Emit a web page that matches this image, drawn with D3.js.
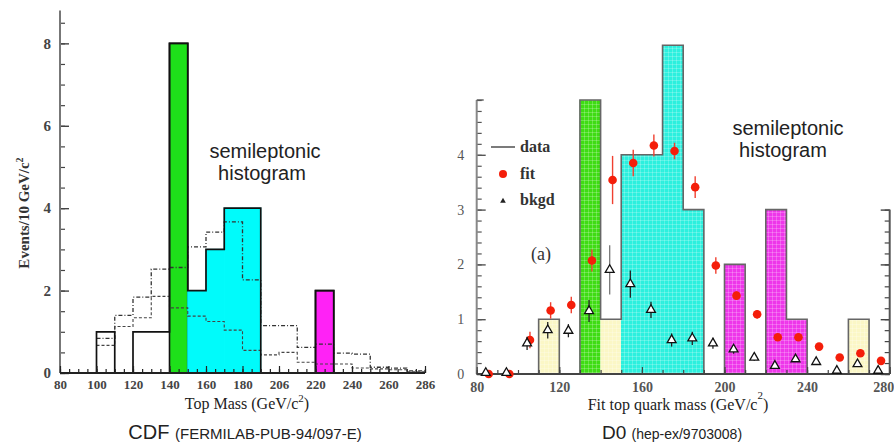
<!DOCTYPE html>
<html><head><meta charset="utf-8">
<script src="https://cdn.jsdelivr.net/npm/d3@7"></script>
<style>
html,body{margin:0;padding:0;background:#fff;}
svg{display:block;}
</style></head>
<body>
<svg id="c" width="894" height="444"></svg>
<script>
// ---------- DATA ----------
const binStarts = [80,90,100,110,120,130,140,150,160,170,180,190,200,210,220,230,240,250,260,270];
// CDF histogram (events per 10 GeV)
const cdfData  = [0,0,1,0,1,1,8,2,3,4,4,0,0,0,2,0,0,0,0,0];
const cdfColor = ["none","none","none","none","none","none","green","cyan","cyan","cyan","cyan","none","none","none","magenta","none","none","none","none","none"];
const cdfUpper = [0,0,0.84,1.4,1.84,2.52,2.56,3.06,3.42,3.67,2.26,1.15,1.15,0.62,0.7,0.48,0.46,0.14,0.12,0.05];
const cdfLower = [0,0,0.67,1.13,1.34,1.86,1.58,1.38,1.25,1.04,0.55,0.44,0.5,0.26,0.22,0.22,0.12,0.1,0.08,0.03];
const cdfXTicks = [80,100,120,140,160,180,200,220,240,260,280];
const cdfXTickLabels = ["80","100","120","140","160","180","206","220","240","260","286"];
const cdfYTicks = [0,2,4,6,8];

// D0 histogram
const d0Data  = [0,0,0,1,0,5,1,4,4,6,3,0,2,0,3,1,0,0,1,0];
const d0Color = ["none","none","none","yellow","none","green","yellow","cyan","cyan","cyan","cyan","none","magenta","none","magenta","magenta","none","none","yellow","none"];
const d0Fit    = [0.0,0.0,0.62,1.16,1.26,2.07,3.54,3.85,4.17,4.07,3.41,1.98,1.43,1.09,0.67,0.67,0.5,0.3,0.38,0.24];
const d0FitErr = [0.03,0.03,0.15,0.15,0.15,0.2,0.44,0.24,0.2,0.15,0.2,0.15,0.08,0.08,0.06,0.06,0.06,0.05,0.05,0.05];
const d0Bkg    = [0.02,0.02,0.56,0.8,0.79,1.15,1.9,1.64,1.17,0.62,0.65,0.56,0.45,0.3,0.15,0.27,0.22,0.06,0.18,0.06];
const d0BkgErr = [0.02,0.02,0.12,0.15,0.12,0.2,0.45,0.25,0.15,0.12,0.12,0.1,0.08,0.06,0.05,0.05,0.05,0.03,0.05,0.03];
const d0XTicks = [80,120,160,200,240,280];
const d0XTickLabels = ["80","120","160","200","240","280"];
const d0YTicks = [0,1,2,3,4];
const legendItems = ["data","fit","bkgd"];

// ---------- STYLE ----------
const cdfFill = {green:"#1ee01a", cyan:"#00fbfb", magenta:"#ff22f6", none:"none"};
const d0Fill  = {green:"#3fdc14", cyan:"#2cf0de", magenta:"#ee36ea", yellow:"#fbf7c6", none:"none"};
const serif = "'Liberation Serif','DejaVu Serif',serif";
const sans = "'Liberation Sans',Arial,sans-serif";

const svg = d3.select("#c");
const defs = svg.append("defs");
["cyan","magenta","green","yellow"].forEach(k=>{
  const p = defs.append("pattern").attr("id","pat-"+k).attr("patternUnits","userSpaceOnUse")
    .attr("width",4).attr("height",4);
  p.append("rect").attr("width",4).attr("height",4).attr("fill",d0Fill[k]);
  p.append("path").attr("d","M0,0.5H4M0.5,0V4").attr("stroke","#fff").attr("stroke-opacity",0.22).attr("stroke-width",1);
});

function stepPts(vals, xs, startIdx){
  const pts=[];
  for(let i=startIdx;i<vals.length;i++){
    pts.push([xs(binStarts[i]),vals[i]]);
    pts.push([xs(binStarts[i]+10),vals[i]]);
  }
  return pts;
}

// ================= CDF =================
const cx = d3.scaleLinear().domain([80,280]).range([60,425]);
const cy = d3.scaleLinear().domain([0,8.8]).range([373,10.4]);
const gC = svg.append("g");

// fills
gC.selectAll("rect.bar").data(binStarts.map((b,i)=>({b,v:cdfData[i],c:cdfColor[i]})).filter(d=>d.v>0 && d.c!=="none"))
  .join("rect").attr("class","bar")
  .attr("x",d=>cx(d.b)).attr("width",d=>cx(d.b+10)-cx(d.b))
  .attr("y",d=>cy(d.v)).attr("height",d=>cy(0)-cy(d.v))
  .attr("fill",d=>cdfFill[d.c])
  .attr("stroke",d=>d.c==="cyan"?cdfFill.cyan:"#111").attr("stroke-width",d=>d.c==="cyan"?1:1.6);

// dashed step lines
const lineC = d3.line().x(d=>d[0]).y(d=>cy(d[1]));
gC.append("path").attr("d",lineC(stepPts(cdfUpper,cx,2))).attr("fill","none")
  .attr("stroke","#333").attr("stroke-width",1.3).attr("stroke-dasharray","4,2,1,2");
gC.append("path").attr("d",lineC(stepPts(cdfLower,cx,2))).attr("fill","none")
  .attr("stroke","#444").attr("stroke-width",1.1).attr("stroke-dasharray","3,2");

// data outline
gC.append("path").attr("d",lineC(stepPts(cdfData,cx,0))).attr("fill","none")
  .attr("stroke","#111").attr("stroke-width",1.7);

// axes
const cYaxisMinor = d3.axisLeft(cy).tickValues(d3.range(0,8.75,0.5)).tickSize(-5).tickFormat("");
gC.append("g").attr("transform","translate(60,0)").call(cYaxisMinor)
  .call(g=>{g.select(".domain").remove(); g.selectAll("line").attr("stroke","#444").attr("stroke-width",1.2);});
const cYaxis = d3.axisLeft(cy).tickValues(cdfYTicks).tickSize(-9).tickPadding(9).tickFormat(d3.format("d"));
gC.append("g").attr("transform","translate(60,0)").call(cYaxis)
  .call(g=>{g.select(".domain").remove();
    g.selectAll("line").attr("stroke","#444").attr("stroke-width",1.4);
    g.selectAll("text").attr("font-family",serif).attr("font-size",15).attr("font-weight","bold").attr("fill","#444");});
gC.append("line").attr("x1",60).attr("x2",60).attr("y1",cy(0)).attr("y2",cy(8.8)).attr("stroke","#777").attr("stroke-width",2);

const cXaxisMinor = d3.axisBottom(cx).tickValues(d3.range(80,281,5)).tickSize(-4).tickFormat("");
gC.append("g").attr("transform",`translate(0,${cy(0)})`).call(cXaxisMinor)
  .call(g=>{g.select(".domain").remove(); g.selectAll("line").attr("stroke","#222").attr("stroke-width",1.2);});
const cXaxis = d3.axisBottom(cx).tickValues(cdfXTicks).tickSize(-7).tickPadding(6)
  .tickFormat((d,i)=>cdfXTickLabels[i]);
gC.append("g").attr("transform",`translate(0,${cy(0)})`).call(cXaxis)
  .call(g=>{g.select(".domain").remove();
    g.selectAll("line").attr("stroke","#222").attr("stroke-width",1.2);
    g.selectAll("text").attr("font-family",serif).attr("font-size",13).attr("font-weight","bold").attr("fill","#444").attr("dy","0.75em");});
gC.append("line").attr("x1",cx(80)).attr("x2",cx(280)).attr("y1",cy(0)).attr("y2",cy(0)).attr("stroke","#222").attr("stroke-width",2);

// labels
gC.append("text").attr("transform","translate(29,213) rotate(-90)").attr("text-anchor","middle")
  .attr("font-family",serif).attr("font-size",15).attr("font-weight","bold").attr("fill","#333")
  .html('Events/10 GeV/c<tspan dy="-6" font-size="10">2</tspan>');
gC.append("text").attr("x",247).attr("y",409).attr("text-anchor","middle")
  .attr("font-family",serif).attr("font-size",16).attr("fill","#222")
  .html('Top Mass (GeV/c<tspan dy="-7" font-size="11">2</tspan><tspan dy="7">)</tspan>');
gC.append("text").attr("x",265).attr("y",158).attr("text-anchor","middle")
  .attr("font-family",sans).attr("font-size",20).attr("fill","#222").text("semileptonic");
gC.append("text").attr("x",262).attr("y",180).attr("text-anchor","middle")
  .attr("font-family",sans).attr("font-size",20).attr("fill","#222").text("histogram");
gC.append("text").attr("x",245).attr("y",439).attr("text-anchor","middle")
  .attr("font-family",sans).attr("fill","#222")
  .html('<tspan font-size="20">CDF </tspan><tspan font-size="15">(FERMILAB-PUB-94/097-E)</tspan>');

// ================= D0 =================
const dx = d3.scaleLinear().domain([80,280]).range([476.7,889.7]);
const dy = d3.scaleLinear().domain([0,5]).range([374,100]);
const gD = svg.append("g");

gD.selectAll("rect.bar").data(binStarts.map((b,i)=>({b,v:d0Data[i],c:d0Color[i]})).filter(d=>d.v>0))
  .join("rect").attr("class","bar")
  .attr("x",d=>dx(d.b)-0.3).attr("width",d=>dx(d.b+10)-dx(d.b)+0.6)
  .attr("y",d=>dy(d.v)).attr("height",d=>dy(0)-dy(d.v))
  .attr("fill",d=>"url(#pat-"+d.c+")").attr("stroke","none");

// data outline (step)
gD.append("path").attr("d",d3.line().x(d=>d[0]).y(d=>dy(d[1]))(stepPts(d0Data,dx,0)))
  .attr("fill","none").attr("stroke","#666").attr("stroke-width",1.6);

// axes
const dYaxisMinor = d3.axisLeft(dy).tickValues(d3.range(0,5.01,0.2)).tickSize(-5).tickFormat("");
gD.append("g").attr("transform",`translate(${dx(80)},0)`).call(dYaxisMinor)
  .call(g=>{g.select(".domain").remove(); g.selectAll("line").attr("stroke","#555").attr("stroke-width",1.2);});
const dYaxis = d3.axisLeft(dy).tickValues(d0YTicks).tickSize(-9).tickPadding(13).tickFormat(d3.format("d"));
gD.append("g").attr("transform",`translate(${dx(80)},0)`).call(dYaxis)
  .call(g=>{g.select(".domain").remove();
    g.selectAll("line").attr("stroke","#555").attr("stroke-width",1.4);
    g.selectAll("text").attr("font-family",serif).attr("font-size",14).attr("fill","#555").attr("text-anchor","middle").attr("x",-16);});
gD.append("line").attr("x1",dx(80)).attr("x2",dx(80)).attr("y1",dy(0)).attr("y2",dy(5)).attr("stroke","#888").attr("stroke-width",2);
gD.append("line").attr("x1",dx(80)).attr("x2",dx(80)+7).attr("y1",dy(5)).attr("y2",dy(5)).attr("stroke","#555").attr("stroke-width",1.4);

// right axis (0..3)
const dRaxis = d3.axisRight(dy).tickValues(d3.range(0,3.01,0.2)).tickSize(-5).tickFormat("");
gD.append("g").attr("transform",`translate(${dx(280)},0)`).call(dRaxis)
  .call(g=>{g.select(".domain").remove(); g.selectAll("line").attr("stroke","#444").attr("stroke-width",1.2);});
const dRaxisMaj = d3.axisRight(dy).tickValues([0,1,2,3]).tickSize(-9).tickFormat("");
gD.append("g").attr("transform",`translate(${dx(280)},0)`).call(dRaxisMaj)
  .call(g=>{g.select(".domain").remove(); g.selectAll("line").attr("stroke","#444").attr("stroke-width",1.4);});
gD.append("line").attr("x1",dx(280)).attr("x2",dx(280)).attr("y1",dy(0)).attr("y2",dy(3)).attr("stroke","#555").attr("stroke-width",2);

const dXaxisMinor = d3.axisBottom(dx).tickValues(d3.range(80,281,10)).tickSize(-4).tickFormat("");
gD.append("g").attr("transform",`translate(0,${dy(0)})`).call(dXaxisMinor)
  .call(g=>{g.select(".domain").remove(); g.selectAll("line").attr("stroke","#444").attr("stroke-width",1.2);});
const dXaxis = d3.axisBottom(dx).tickValues(d0XTicks).tickSize(-7).tickPadding(7)
  .tickFormat((d,i)=>d0XTickLabels[i]);
gD.append("g").attr("transform",`translate(0,${dy(0)})`).call(dXaxis)
  .call(g=>{g.select(".domain").remove();
    g.selectAll("line").attr("stroke","#444").attr("stroke-width",1.2);
    g.selectAll("text").attr("font-family",serif).attr("font-size",14).attr("font-weight","bold").attr("fill","#555").attr("dy","0.75em");
    g.selectAll("text").filter(d=>d===280).attr("text-anchor","end").attr("x",4);});
gD.append("line").attr("x1",dx(80)).attr("x2",dx(280)).attr("y1",dy(0)).attr("y2",dy(0)).attr("stroke","#444").attr("stroke-width",1.8);

// fit points
const fitOff = 0.8, bkgOff = -0.6;
const fitG = gD.append("g");
binStarts.forEach((b,i)=>{
  const x = dx(b+5+fitOff);
  fitG.append("line").attr("x1",x).attr("x2",x).attr("y1",dy(d0Fit[i]-d0FitErr[i])).attr("y2",dy(d0Fit[i]+d0FitErr[i]))
    .attr("stroke","#f04030").attr("stroke-width",1.4);
  fitG.append("circle").attr("cx",x).attr("cy",dy(d0Fit[i])).attr("r",4.3).attr("fill","#f41e0a");
});
// bkgd points
const bkG = gD.append("g");
const tri = d3.symbol().type(d3.symbolTriangle).size(34);
binStarts.forEach((b,i)=>{
  const x = dx(b+5+bkgOff);
  bkG.append("line").attr("x1",x).attr("x2",x).attr("y1",dy(d0Bkg[i]-d0BkgErr[i])).attr("y2",dy(d0Bkg[i]+d0BkgErr[i]))
    .attr("stroke",i===6?"#777":"#222").attr("stroke-width",1.3);
  bkG.append("path").attr("d",tri).attr("transform",`translate(${x},${dy(d0Bkg[i])})`)
    .attr("fill","#fff").attr("stroke","#111").attr("stroke-width",1.3);
});

// legend
const lg = gD.append("g").attr("font-family",serif).attr("font-size",16).attr("font-weight","bold").attr("fill","#333");
lg.append("line").attr("x1",491).attr("x2",515).attr("y1",147).attr("y2",147).attr("stroke","#333").attr("stroke-width",1.3);
lg.append("circle").attr("cx",503).attr("cy",174).attr("r",4).attr("fill","#f41e0a");
lg.append("path").attr("d",d3.symbol().type(d3.symbolTriangle).size(14)).attr("transform","translate(503,201)").attr("fill","#222");
legendItems.forEach((t,i)=>{
  lg.append("text").attr("x",520).attr("y",152+i*26.5).text(t);
});
gD.append("text").attr("x",531).attr("y",260).attr("font-family",serif).attr("font-size",18).attr("fill","#333").text("(a)");

gD.append("text").attr("x",788).attr("y",135).attr("text-anchor","middle")
  .attr("font-family",sans).attr("font-size",20).attr("fill","#222").text("semileptonic");
gD.append("text").attr("x",783).attr("y",157).attr("text-anchor","middle")
  .attr("font-family",sans).attr("font-size",20).attr("fill","#222").text("histogram");

gD.append("text").attr("x",678).attr("y",410).attr("text-anchor","middle")
  .attr("font-family",serif).attr("font-size",16).attr("fill","#222")
  .html('Fit top quark mass (GeV/c<tspan dy="-11" font-size="11">2</tspan><tspan dy="11">)</tspan>');
gD.append("text").attr("x",672).attr("y",439).attr("text-anchor","middle")
  .attr("font-family",sans).attr("fill","#222")
  .html('<tspan font-size="19">D0 </tspan><tspan font-size="14">(hep-ex/9703008)</tspan>');
</script>
</body></html>
